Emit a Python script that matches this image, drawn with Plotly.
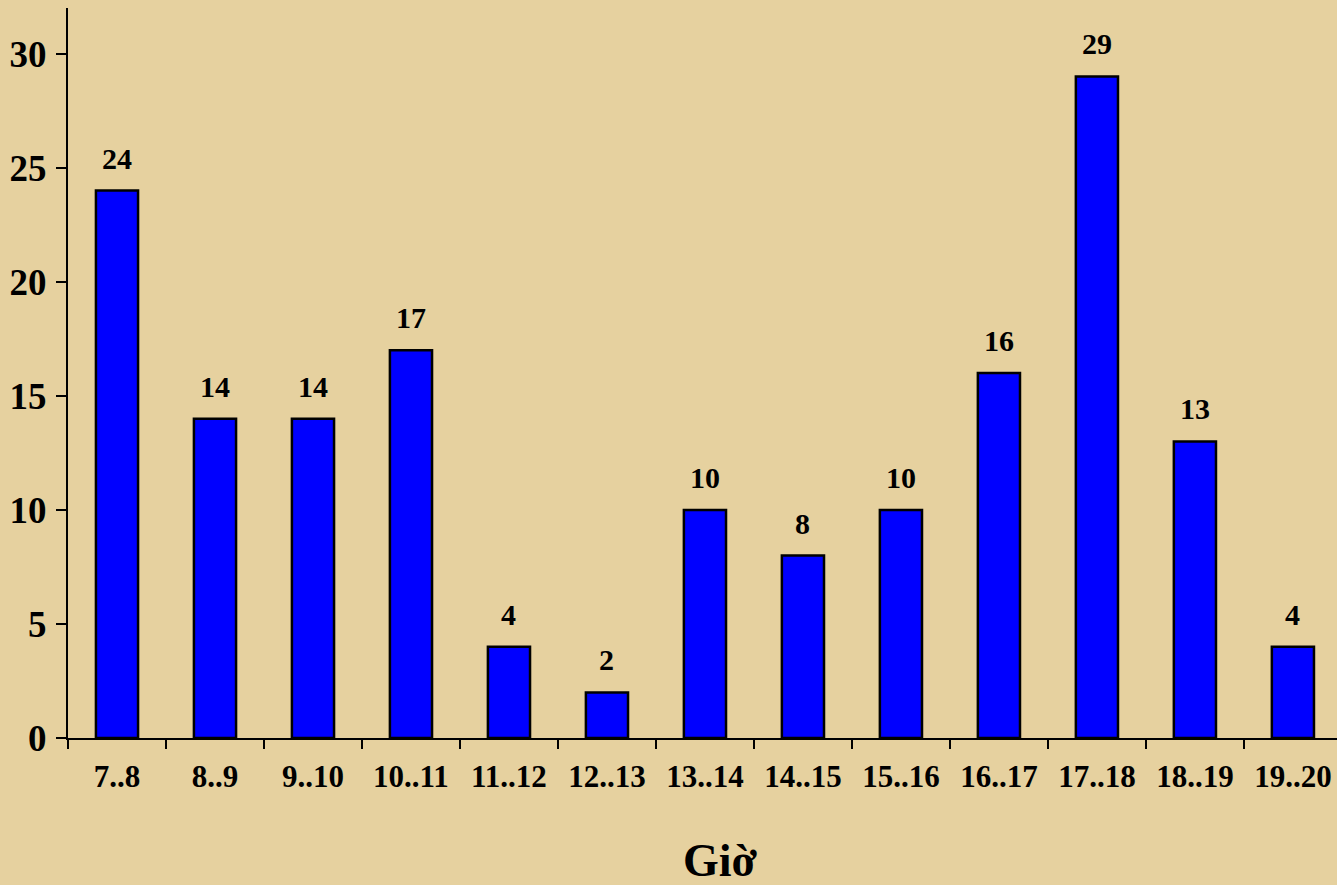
import plotly.graph_objects as go

categories = ["7..8", "8..9", "9..10", "10..11", "11..12", "12..13", "13..14",
              "14..15", "15..16", "16..17", "17..18", "18..19", "19..20"]
values = [24, 14, 14, 17, 4, 2, 10, 8, 10, 16, 29, 13, 4]
y_ticks = [0, 5, 10, 15, 20, 25, 30]
x_title = "Giờ"

FONT = "Liberation Serif, Times New Roman, serif"
BG = "#E6D19F"

fig = go.Figure()
fig.add_trace(go.Bar(
    x=categories, y=values,
    width=0.43,
    marker=dict(color="#0000FF", line=dict(color="black", width=2.5)),
    hoverinfo="x+y",
))

for c, v in zip(categories, values):
    fig.add_annotation(x=c, y=v, text=f"<b>{v}</b>", showarrow=False,
                       yanchor="bottom", yshift=14,
                       font=dict(family=FONT, size=30, color="black"))

fig.add_annotation(xref="paper", yref="paper", x=0.514, y=0, yshift=-122,
                   text=f"<b>{x_title}</b>", showarrow=False, yanchor="middle",
                   font=dict(family=FONT, size=46, color="black"))

fig.update_layout(
    width=1337, height=885,
    margin=dict(l=68, r=0, t=8, b=147),
    paper_bgcolor=BG, plot_bgcolor=BG,
    showlegend=False,
    font=dict(family=FONT, color="black"),
)
fig.update_xaxes(
    type="category", range=[-0.5, 12.45],
    showline=True, linecolor="black", linewidth=2,
    ticks="outside", tickson="boundaries", ticklen=9, tickwidth=1.5, tickcolor="black",
    tickfont=dict(family=FONT, size=31, color="black", weight="bold"),
    ticklabelstandoff=10,
    showgrid=False, zeroline=False,
)
fig.update_yaxes(
    range=[0, 32], tickvals=y_ticks,
    showline=True, linecolor="black", linewidth=2,
    ticks="outside", ticklen=10, tickwidth=1.5, tickcolor="black",
    tickfont=dict(family=FONT, size=37, color="black", weight="bold"),
    ticklabelstandoff=2,
    showgrid=False, zeroline=False,
)

fig.write_html("out.html",
               config={"displayModeBar": False},
               post_script="document.body.style.margin='0';document.body.style.overflow='hidden';")
